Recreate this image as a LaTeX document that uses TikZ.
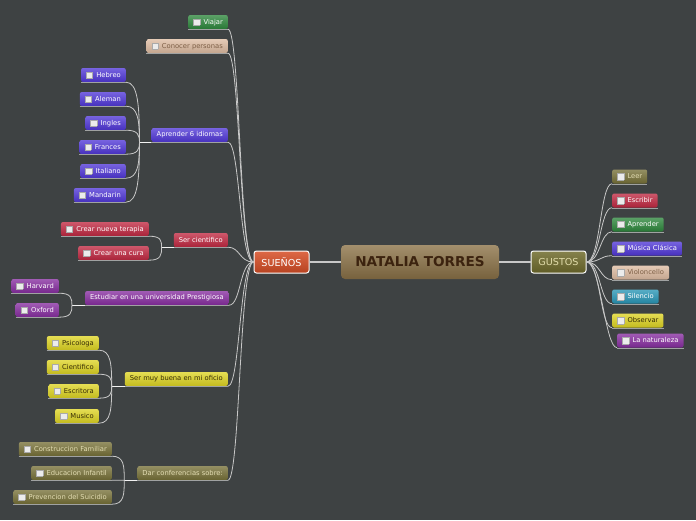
\documentclass[tikz,border=0pt]{standalone}
\usepackage{fontspec}
\setmainfont{DejaVu Sans}
\usepackage{xcolor}
\usepackage{tikz}
\usetikzlibrary{positioning, calc}
\definecolor{bgdark}{RGB}{62, 66, 67}
\definecolor{linegray}{RGB}{200, 200, 200}
\definecolor{ulgray}{RGB}{160, 162, 162}
\definecolor{topicbrown}{RGB}{140, 115, 72}
\definecolor{topictext}{RGB}{60, 35, 15}
\definecolor{suenored}{RGB}{215, 78, 38}
\definecolor{gustoolive}{RGB}{112, 108, 45}
\definecolor{gustotext}{RGB}{225, 220, 170}
\definecolor{leafgreen}{RGB}{45, 135, 60}
\definecolor{leaftan}{RGB}{222, 188, 162}
\definecolor{tantext}{RGB}{125, 95, 70}
\definecolor{leafblue}{RGB}{80, 55, 215}
\definecolor{leafred}{RGB}{192, 40, 65}
\definecolor{leafpurple}{RGB}{135, 45, 160}
\definecolor{leafyellow}{RGB}{222, 212, 35}
\definecolor{yellowtext}{RGB}{55, 45, 5}
\definecolor{leafolive}{RGB}{118, 112, 55}
\definecolor{olivetext}{RGB}{228, 222, 180}
\definecolor{leafcyan}{RGB}{40, 150, 182}
\definecolor{chkfill}{RGB}{236, 236, 236}
\definecolor{chkline}{RGB}{170, 170, 170}

\newcommand{\chkbox}{{\setlength{\fboxsep}{0pt}\setlength{\fboxrule}{0.4pt}\raisebox{-0.9pt}{\fcolorbox{chkline}{chkfill}{\rule{0pt}{6pt}\rule{6pt}{0pt}}}}\hspace{3.5pt}}

\tikzset{
  leaf/.style={rounded corners=2pt, minimum height=14pt, inner xsep=5pt, inner ysep=0pt,
               font=\fontsize{6.75}{8}\selectfont, top color=#1!78!white, bottom color=#1!88!black, text=white},
  mainbranch/.style={rounded corners=2.5pt, draw=white, line width=1pt, minimum width=55pt, minimum height=22pt,
               inner sep=0pt, font=\fontsize{9.6}{11}\selectfont, top color=#1!85!white, bottom color=#1!85!black},
  topic/.style={rounded corners=4pt, minimum width=158pt, minimum height=34pt, inner sep=0pt,
               top color=topicbrown!80!white, bottom color=topicbrown!85!black, text=topictext,
               font=\fontsize{13.6}{15}\selectfont\bfseries},
  uline/.style={draw=ulgray, line width=1.1pt},
  conn/.style={draw=linegray, line width=0.8pt},
  stem/.style={draw=white!90!gray, line width=1.3pt},
  mainline/.style={draw=linegray, line width=1.2pt}
}

\begin{document}
\begin{tikzpicture}[x=1pt, y=-1pt]
\fill[bgdark] (0,0) rectangle (696,520);
\useasboundingbox (0,0) rectangle (696,520);

\node[topic] (natalia) at (420,262) {NATALIA TORRES};
\node[mainbranch=suenored, text=white] (suenos) at (281.5,262) {SUEÑOS};
\node[mainbranch=gustoolive, text=gustotext] (gustos) at (558.5,262) {GUSTOS};

\draw[mainline] (natalia.west) -- (suenos.east);
\draw[mainline] (natalia.east) -- (gustos.west);

% suenos
\node[leaf=leafgreen, anchor=east] (viajar) at (228,22) {\chkbox Viajar};
\node[leaf=leaftan, text=tantext, anchor=east] (conocer) at (228,46) {\chkbox Conocer personas};
\node[leaf=leafblue, anchor=east] (idiomas) at (228,135) {Aprender 6 idiomas};
\node[leaf=leafblue, anchor=east] (hebreo) at (126,75) {\chkbox Hebreo};
\node[leaf=leafblue, anchor=east] (aleman) at (126,99) {\chkbox Aleman};
\node[leaf=leafblue, anchor=east] (ingles) at (126,123) {\chkbox Ingles};
\node[leaf=leafblue, anchor=east] (frances) at (126,147) {\chkbox Frances};
\node[leaf=leafblue, anchor=east] (italiano) at (126,171) {\chkbox Italiano};
\node[leaf=leafblue, anchor=east] (mandarin) at (126,195) {\chkbox Mandarin};
\node[leaf=leafred, anchor=east] (cientifico) at (228,240) {Ser cientifico};
\node[leaf=leafred, anchor=east] (terapia) at (149,229) {\chkbox Crear nueva terapia};
\node[leaf=leafred, anchor=east] (cura) at (149,253) {\chkbox Crear una cura};
\node[leaf=leafpurple, anchor=east] (universidad) at (229,298) {Estudiar en una universidad Prestigiosa};
\node[leaf=leafpurple, anchor=east] (harvard) at (59,286) {\chkbox Harvard};
\node[leaf=leafpurple, anchor=east] (oxford) at (59,310) {\chkbox Oxford};
\node[leaf=leafyellow, text=yellowtext, anchor=east] (oficio) at (228,379) {Ser muy buena en mi oficio};
\node[leaf=leafyellow, text=yellowtext, anchor=east] (psicologa) at (99,343) {\chkbox Psicologa};
\node[leaf=leafyellow, text=yellowtext, anchor=east] (cientifica) at (99,367) {\chkbox Cientifico};
\node[leaf=leafyellow, text=yellowtext, anchor=east] (escritora) at (99,391) {\chkbox Escritora};
\node[leaf=leafyellow, text=yellowtext, anchor=east] (musico) at (99,416) {\chkbox Musico};
\node[leaf=leafolive, text=olivetext, anchor=east] (conferencias) at (228,473) {Dar conferencias sobre:};
\node[leaf=leafolive, text=olivetext, anchor=east] (familiar) at (112,449) {\chkbox Construccion Familiar};
\node[leaf=leafolive, text=olivetext, anchor=east] (infantil) at (112,473) {\chkbox Educacion Infantil};
\node[leaf=leafolive, text=olivetext, anchor=east] (suicidio) at (112,497) {\chkbox Prevencion del Suicidio};

% gustos
\node[leaf=leafolive, text=olivetext, anchor=west] (leer) at (612,176.5) {\chkbox Leer};
\node[leaf=leafred, anchor=west] (escribir) at (612,200.5) {\chkbox Escribir};
\node[leaf=leafgreen, anchor=west] (aprender) at (612,224.5) {\chkbox Aprender};
\node[leaf=leafblue, anchor=west] (musica) at (612,248.5) {\chkbox Música Clásica};
\node[leaf=leaftan, text=tantext, anchor=west] (violoncello) at (612,272.5) {\chkbox Violoncello};
\node[leaf=leafcyan, anchor=west] (silencio) at (612,296.5) {\chkbox Silencio};
\node[leaf=leafyellow, text=yellowtext, anchor=west] (observar) at (612,320.5) {\chkbox Observar};
\node[leaf=leafpurple, anchor=west] (naturaleza) at (617,340.5) {\chkbox La naturaleza};

\foreach \n in {viajar,conocer,idiomas,hebreo,aleman,ingles,frances,italiano,mandarin,
                cientifico,terapia,cura,universidad,harvard,oxford,oficio,psicologa,cientifica,
                escritora,musico,conferencias,familiar,infantil,suicidio,
                leer,escribir,aprender,musica,violoncello,silencio,observar,naturaleza}
  \draw[uline] ($(\n.south west)+(0,0.6)$) -- ($(\n.south east)+(0,0.6)$);

\foreach \n in {viajar,conocer,idiomas,cientifico,universidad,oficio,conferencias}
  \draw[conn] (suenos.west) .. controls +(-14,0) and +(12,0) .. (\n.south east);

\foreach \n in {leer,escribir,aprender,musica,violoncello,silencio,observar,naturaleza}
  \draw[conn] (gustos.east) .. controls +(14,0) and +(-12,0) .. (\n.south west);

\coordinate (jidiomas) at ($(idiomas.south west)+(-12,0)$);
\draw[stem] (idiomas.south west) -- (jidiomas);
\foreach \n in {hebreo,aleman,ingles,frances,italiano,mandarin}
  \draw[conn] (\n.south east) .. controls +(12,0) and ($(jidiomas)!0.6!(jidiomas|-\n.south east)$) .. (jidiomas);

\coordinate (jcientifico) at ($(cientifico.south west)+(-12,0)$);
\draw[stem] (cientifico.south west) -- (jcientifico);
\foreach \n in {terapia,cura}
  \draw[conn] (\n.south east) .. controls +(12,0) and ($(jcientifico)!0.6!(jcientifico|-\n.south east)$) .. (jcientifico);

\coordinate (juniversidad) at ($(universidad.south west)+(-13,0)$);
\draw[stem] (universidad.south west) -- (juniversidad);
\foreach \n in {harvard,oxford}
  \draw[conn] (\n.south east) .. controls +(12,0) and ($(juniversidad)!0.6!(juniversidad|-\n.south east)$) .. (juniversidad);

\coordinate (joficio) at ($(oficio.south west)+(-13,0)$);
\draw[stem] (oficio.south west) -- (joficio);
\foreach \n in {psicologa,cientifica,escritora,musico}
  \draw[conn] (\n.south east) .. controls +(12,0) and ($(joficio)!0.6!(joficio|-\n.south east)$) .. (joficio);

\coordinate (jconferencias) at ($(conferencias.south west)+(-13,0)$);
\draw[stem] (conferencias.south west) -- (jconferencias);
\foreach \n in {familiar,infantil,suicidio}
  \draw[conn] (\n.south east) .. controls +(12,0) and ($(jconferencias)!0.6!(jconferencias|-\n.south east)$) .. (jconferencias);
\end{tikzpicture}
\end{document}
